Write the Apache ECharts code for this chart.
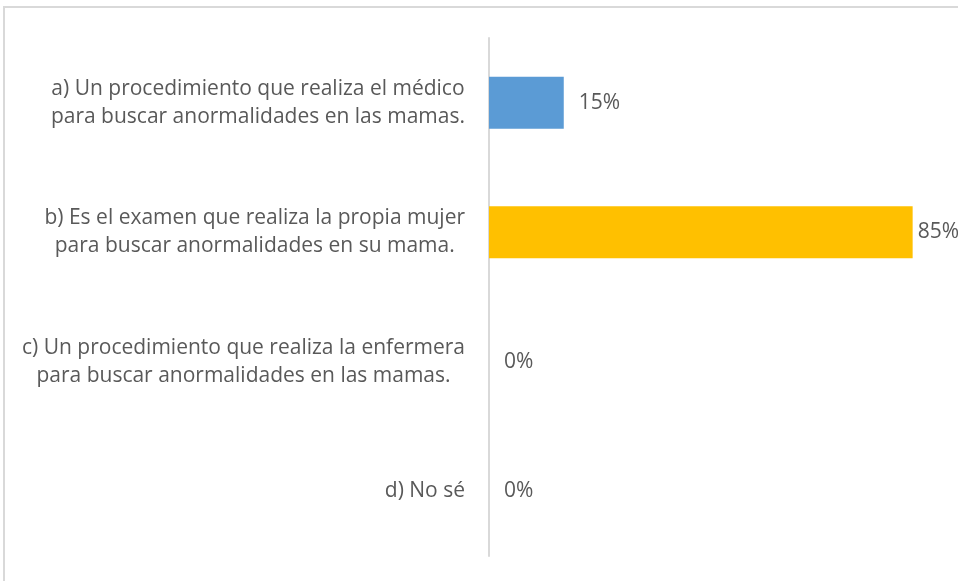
<!DOCTYPE html>
<html>
<head>
<meta charset="utf-8">
<script src="https://cdn.jsdelivr.net/npm/echarts@6/dist/echarts.min.js"></script>
<style>
  html, body { margin: 0; padding: 0; background: #fff; }
  #chart { width: 958px; height: 581px; }
</style>
</head>
<body>
<div id="chart"></div>
<script>
// categories, top to bottom
const categories = [
  "a) Un procedimiento que realiza el médico\npara buscar anormalidades en las mamas.",
  "b) Es el examen que realiza la propia mujer\npara buscar anormalidades en su mama.",
  "c) Un procedimiento que realiza la enfermera\npara buscar anormalidades en las mamas.",
  "d) No sé"
];
const values = [15, 85, 0, 0];
const barColors = ["#5B9BD5", "#FFC000", "#A5A5A5", "#A5A5A5"];

const textColor = "#595959";
const fontFamily = "'Open Sans', sans-serif";
const fontSize = 21;

const chart = echarts.init(document.getElementById("chart"), null, { renderer: "canvas" });

// reversed so the first category sits on top
const yData = categories.slice().reverse();
const seriesData = values.map((v, i) => ({
  value: v,
  itemStyle: { color: barColors[i] },
  label: { distance: v > 50 ? 5 : 15 }
})).reverse();

chart.setOption({
  backgroundColor: "#fff",
  animation: false,
  graphic: [
    {
      type: "polyline",
      shape: { points: [[4, 700], [4, 7], [1200, 7]] },
      style: { stroke: "#d9d9d9", lineWidth: 2, fill: null }
    }
  ],
  // plot area runs past the right edge, so cut the axis at 94.1%
  grid: { left: 489, right: 0, top: 38, bottom: 25 },
  xAxis: {
    type: "value",
    min: 0,
    max: 94.1,
    show: false
  },
  yAxis: {
    type: "category",
    data: yData,
    axisLine: { lineStyle: { color: "#d9d9d9", width: 2 } },
    axisTick: { show: false },
    axisLabel: {
      color: textColor,
      fontFamily: fontFamily,
      fontSize: fontSize,
      lineHeight: 28,
      margin: 24,
      align: "right",
      // block sits right of the axis gap, lines centred inside it
      formatter: (v) => v.split("\n").map((s) => "{c|" + s + "}").join("\n"),
      rich: {
        c: {
          align: "center",
          color: textColor,
          fontFamily: fontFamily,
          fontSize: fontSize,
          lineHeight: 28
        }
      }
    }
  },
  series: [
    {
      type: "bar",
      data: seriesData,
      barWidth: "40%",
      label: {
        show: true,
        position: "right",
        formatter: "{c}%",
        color: textColor,
        fontFamily: fontFamily,
        fontSize: fontSize
      }
    }
  ]
});
</script>
</body>
</html>
